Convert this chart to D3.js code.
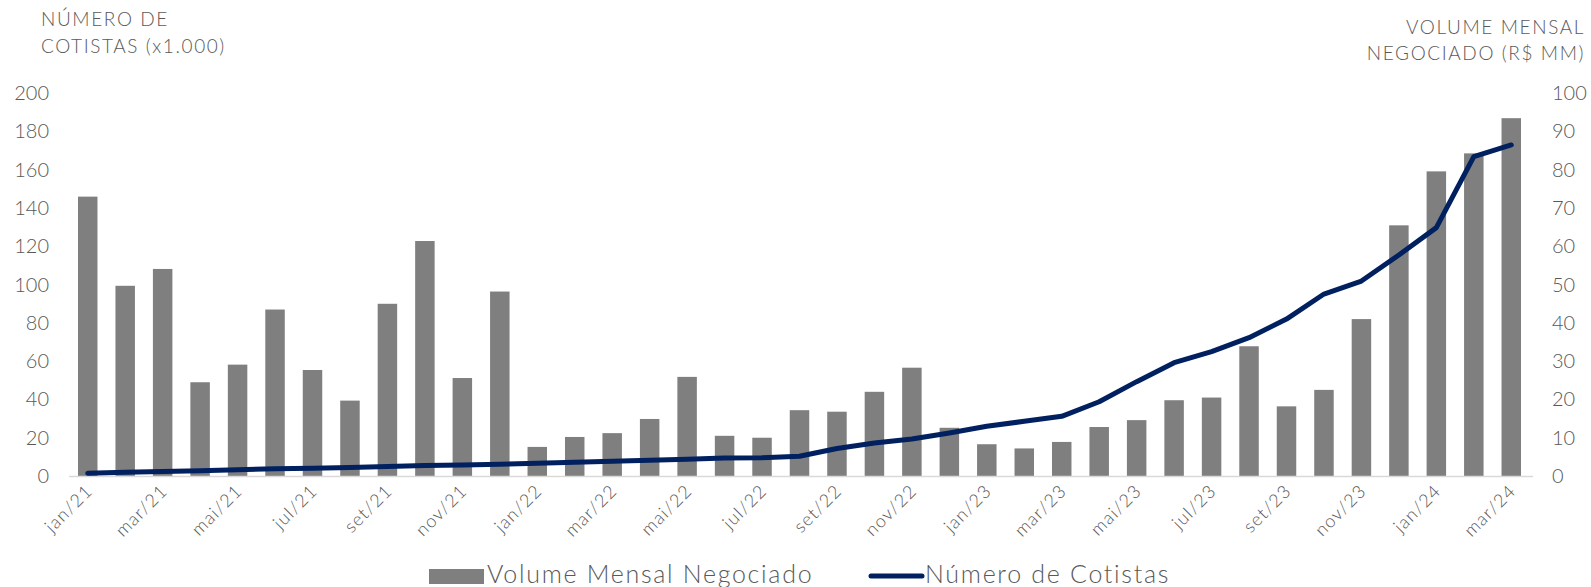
<!DOCTYPE html>
<html><head><meta charset="utf-8">
<script src="https://cdn.jsdelivr.net/npm/d3@7"></script>
<style>
body{margin:0;background:#fff;}
svg text{font-family:Lato,"Open Sans",sans-serif;font-weight:300;fill:#595959;}
</style></head>
<body><svg id="c" width="1591" height="587"></svg>
<script>
const months = ["jan/21","fev/21","mar/21","abr/21","mai/21","jun/21","jul/21","ago/21","set/21","out/21","nov/21","dez/21",
"jan/22","fev/22","mar/22","abr/22","mai/22","jun/22","jul/22","ago/22","set/22","out/22","nov/22","dez/22",
"jan/23","fev/23","mar/23","abr/23","mai/23","jun/23","jul/23","ago/23","set/23","out/23","nov/23","dez/23",
"jan/24","fev/24","mar/24"];
const volume = [73,49.7,54.1,24.5,29.1,43.5,27.7,19.7,45,61.4,25.6,48.2,
7.6,10.2,11.2,14.9,25.9,10.5,10.0,17.2,16.8,22.0,28.3,12.6,
8.3,7.2,8.9,12.8,14.6,19.8,20.5,33.9,18.2,22.5,41.0,65.5,
79.6,84.3,93.5];
const cotistas = [1.5,2.0,2.3,2.8,3.3,3.8,4.1,4.5,5.0,5.5,5.8,6.2,
6.6,7.2,7.7,8.2,8.7,9.4,9.6,10.3,14.4,17.2,19.3,22.5,
26,28.6,31.2,38.8,49.3,59.2,65,72.3,82,95.1,101.9,115.5,
129.8,166.9,173];
const leftTicks = [0,20,40,60,80,100,120,140,160,180,200];
const rightTicks = [0,10,20,30,40,50,60,70,80,90,100];
const leftTitle = ["NÚMERO DE","COTISTAS (x1.000)"];
const rightTitle = ["VOLUME MENSAL","NEGOCIADO (R$ MM)"];
const legendItems = ["Volume Mensal Negociado","Número de Cotistas"];

const svg = d3.select("#c");
const x = d3.scaleBand().domain(months).range([69,1530]).paddingInner(0.48).paddingOuter(0.24);
const yL = d3.scaleLinear().domain([0,200]).range([476,93.3]);
const yR = d3.scaleLinear().domain([0,100]).range([476,93.3]);

// bars
svg.append("g").selectAll("rect").data(volume).join("rect")
  .attr("x",(d,i)=>x(months[i])).attr("width",x.bandwidth())
  .attr("y",d=>yR(d)).attr("height",d=>yR(0)-yR(d))
  .attr("fill","#7f7f7f");

// baseline
svg.append("line").attr("x1",69).attr("x2",1533).attr("y1",yL(0)+0.5).attr("y2",yL(0)+0.5)
  .attr("stroke","#d9d9d9").attr("stroke-width",1.5);

// line
const line = d3.line().x((d,i)=>x(months[i])+x.bandwidth()/2).y(d=>yL(d));
svg.append("path").datum(cotistas).attr("d",line).attr("fill","none")
  .attr("stroke","#002060").attr("stroke-width",5).attr("stroke-linecap","round").attr("stroke-linejoin","round");

// left axis
const gl = svg.append("g").attr("transform","translate(49,0)")
  .call(d3.axisLeft(yL).tickValues(leftTicks).tickSize(0).tickPadding(0));
gl.select(".domain").remove();
gl.selectAll("text").attr("font-size",20).style("fill","#595959");

// right axis
const gr = svg.append("g").attr("transform","translate(1552,0)")
  .call(d3.axisRight(yR).tickValues(rightTicks).tickSize(0).tickPadding(0));
gr.select(".domain").remove();
gr.selectAll("text").attr("font-size",20).style("fill","#595959");

// x labels (every other month)
svg.append("g").selectAll("text").data(months.filter((m,i)=>i%2===0)).join("text")
  .attr("transform",m=>`translate(${x(m)+x.bandwidth()/2+6},${yL(0)+16}) rotate(-45)`)
  .attr("text-anchor","end").attr("font-size",18).attr("letter-spacing",1.2).text(m=>m);

// titles
svg.append("g").selectAll("text").data(leftTitle).join("text")
  .attr("x",41).attr("y",(d,i)=>26+i*27).attr("font-size",19).attr("letter-spacing",1.6).text(d=>d);
svg.append("g").selectAll("text").data(rightTitle).join("text")
  .attr("x",1585).attr("y",(d,i)=>34+i*26).attr("text-anchor","end").attr("font-size",19).attr("letter-spacing",1.6).text(d=>d);

// legend
svg.append("rect").attr("x",429).attr("y",569).attr("width",55).attr("height",15).attr("fill","#7f7f7f");
svg.append("text").attr("x",487).attr("y",583).attr("font-size",25).attr("letter-spacing",1.7).text(legendItems[0]);
svg.append("line").attr("x1",871).attr("x2",922).attr("y1",576).attr("y2",576)
  .attr("stroke","#002060").attr("stroke-width",5).attr("stroke-linecap","round");
svg.append("text").attr("x",925).attr("y",583).attr("font-size",25).attr("letter-spacing",1.7).text(legendItems[1]);
</script></body></html>
